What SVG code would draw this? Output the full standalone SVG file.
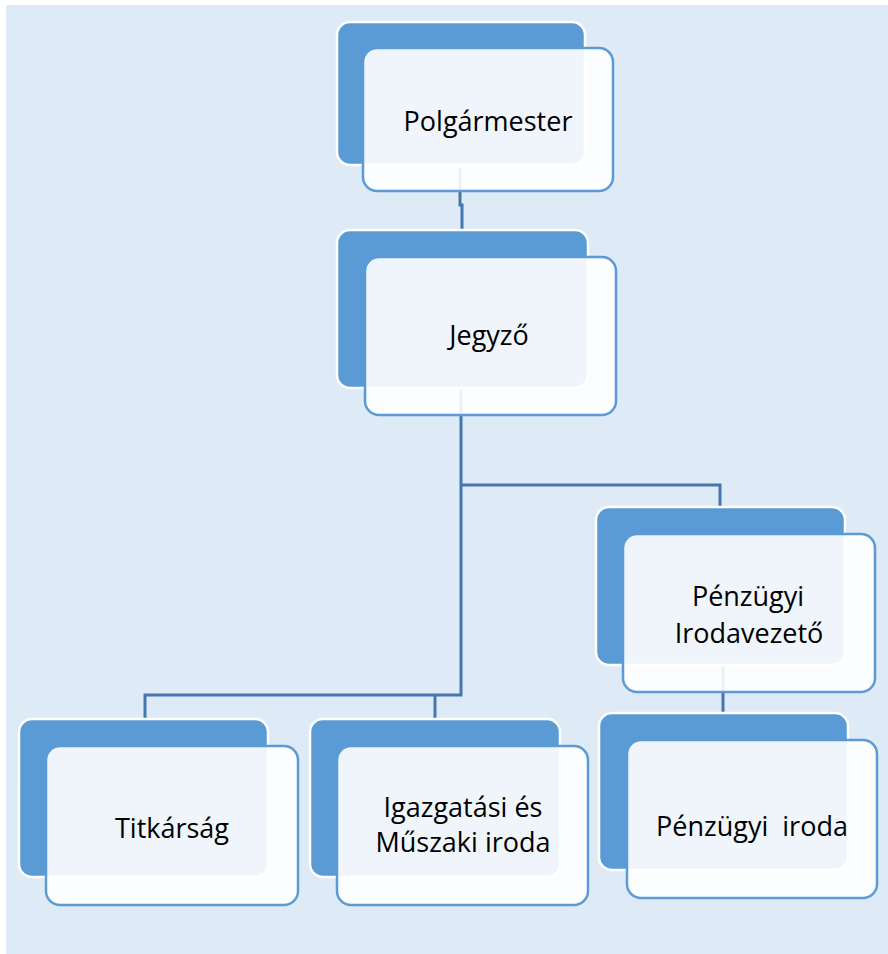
<svg xmlns="http://www.w3.org/2000/svg" width="888" height="954" viewBox="0 0 888 954">
<style>
.back{fill:#5B9BD5;stroke:#FFFFFF;stroke-width:2.5}
.front{fill:#FFFFFF;fill-opacity:0.9;stroke:#5B9BD5;stroke-width:2.5}
.conn{fill:none;stroke:#4676AE;stroke-width:3}
text{font-family:"Open Sans","Liberation Sans",sans-serif;font-size:27px;fill:#000;text-anchor:middle}
</style>
<rect x="6" y="5" width="882" height="949" fill="#DEEAF6"/>
<g id="connectors">
<path class="conn" d="M460 168 V205 H462 V232"/>
<path class="conn" d="M461 390 V695 H145 V720"/>
<path class="conn" d="M435 695 V720"/>
<path class="conn" d="M461 485 H720 V508"/>
<path class="conn" d="M723 666 V714"/>
</g>
<g id="polgarmester">
<rect class="back" x="337" y="22" width="248" height="143" rx="13"/>
<rect class="front" x="363" y="48" width="250" height="143" rx="14"/>
<text x="488" y="131">Polgármester</text>
</g>
<g id="jegyzo">
<rect class="back" x="337" y="230" width="251" height="158" rx="13"/>
<rect class="front" x="365" y="257" width="251" height="158" rx="14"/>
<text x="489" y="345">Jegyző</text>
</g>
<g id="penzugyi-irodavezeto">
<rect class="back" x="596" y="507" width="249" height="158" rx="13"/>
<rect class="front" x="623" y="534" width="252" height="158" rx="14"/>
<text x="748" y="606">Pénzügyi</text>
<text x="749" y="643">Irodavezető</text>
</g>
<g id="titkarsag">
<rect class="back" x="19" y="719" width="249" height="158" rx="13"/>
<rect class="front" x="46" y="746" width="252" height="159" rx="14"/>
<text x="172" y="838">Titkárság</text>
</g>
<g id="igazgatasi">
<rect class="back" x="310" y="719" width="250" height="158" rx="13"/>
<rect class="front" x="337" y="746" width="251" height="159" rx="14"/>
<text x="463" y="817">Igazgatási és</text>
<text x="463" y="852">Műszaki iroda</text>
</g>
<g id="penzugyi-iroda">
<rect class="back" x="599" y="713" width="249" height="157" rx="13"/>
<rect class="front" x="627" y="740" width="250" height="158" rx="14"/>
<text x="752" y="836" xml:space="preserve">Pénzügyi  iroda</text>
</g>
</svg>
